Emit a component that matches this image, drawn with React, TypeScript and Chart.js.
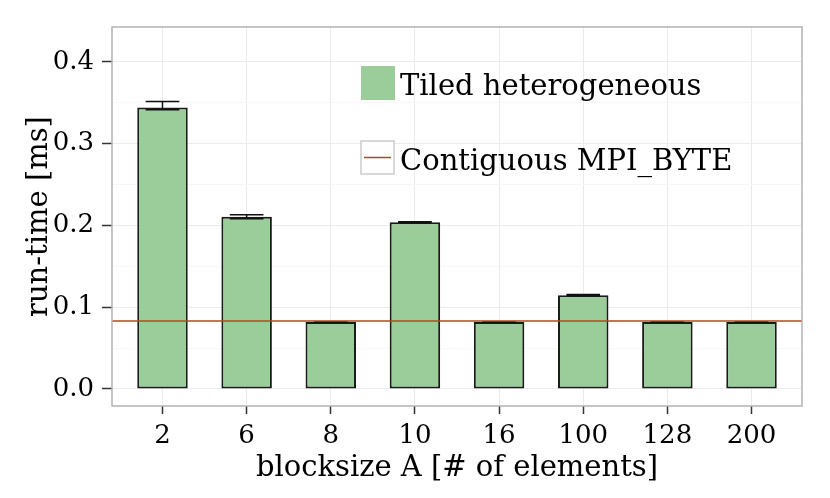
import { useEffect, useRef } from "react"
import { Chart, registerables } from "chart.js"

Chart.register(...registerables)

// data
const blockSizes = ["2", "6", "8", "10", "16", "100", "128", "200"]
const tiledTime = [0.3443, 0.2105, 0.082, 0.204, 0.082, 0.1147, 0.082, 0.082]
const tiledLow = [0.3415, 0.2081, 0.0818, 0.2035, 0.0818, 0.1143, 0.0818, 0.0818]
const tiledHigh = [0.3517, 0.213, 0.0822, 0.2045, 0.0822, 0.1155, 0.0822, 0.0822]
const contiguousTime = 0.0832
const yTicks = [0, 0.1, 0.2, 0.3, 0.4]

const serif = "'DejaVu Serif', serif"
const green = "#9acd9a"
const red = "#b5471f"

const isMajor = (v: number) => yTicks.some((t) => Math.abs(t - v) < 1e-6)

const overlay = {
  id: "overlay",
  afterDatasetsDraw(chart: any) {
    const { ctx, chartArea, scales } = chart
    const x = scales.x
    const y = scales.y
    ctx.save()
    // error bars
    ctx.strokeStyle = "#111"
    ctx.lineWidth = 1.5
    tiledTime.forEach((_, i) => {
      const xc = x.getPixelForValue(i)
      const xl = x.getPixelForValue(i - 0.2)
      const xr = x.getPixelForValue(i + 0.2)
      const yl = y.getPixelForValue(tiledLow[i])
      const yh = y.getPixelForValue(tiledHigh[i])
      ctx.beginPath()
      ctx.moveTo(xl, yh)
      ctx.lineTo(xr, yh)
      ctx.moveTo(xl, yl)
      ctx.lineTo(xr, yl)
      ctx.moveTo(xc, yl)
      ctx.lineTo(xc, yh)
      ctx.stroke()
    })
    // reference line
    const yc = y.getPixelForValue(contiguousTime)
    ctx.strokeStyle = red
    ctx.lineWidth = 1.5
    ctx.beginPath()
    ctx.moveTo(chartArea.left, yc)
    ctx.lineTo(chartArea.right, yc)
    ctx.stroke()
    ctx.restore()
  },
  afterDraw(chart: any) {
    const { ctx, chartArea } = chart
    ctx.save()
    // panel border
    ctx.strokeStyle = "#b3b3b3"
    ctx.lineWidth = 1.5
    ctx.strokeRect(chartArea.left, chartArea.top, chartArea.right - chartArea.left, chartArea.bottom - chartArea.top)
    // legend
    ctx.fillStyle = green
    ctx.fillRect(361, 66, 34, 34)
    ctx.fillStyle = "#fff"
    ctx.fillRect(361, 141, 33, 33)
    ctx.strokeStyle = "#cccccc"
    ctx.lineWidth = 1.5
    ctx.strokeRect(361, 141, 33, 33)
    ctx.strokeStyle = red
    ctx.beginPath()
    ctx.moveTo(364, 157.5)
    ctx.lineTo(391, 157.5)
    ctx.stroke()
    ctx.fillStyle = "#000"
    ctx.font = `29px ${serif}`
    ctx.textBaseline = "alphabetic"
    ctx.fillText("Tiled heterogeneous", 400, 95)
    ctx.fillText("Contiguous MPI_BYTE", 400, 170)
    ctx.restore()
  },
}

const BarChart = () => {
  const chartRef = useRef<HTMLCanvasElement>(null)

  useEffect(() => {
    if (!chartRef.current) return
    const myChart = new Chart(chartRef.current, {
      type: "bar",
      data: {
        datasets: [
          {
            label: "Tiled heterogeneous",
            data: tiledTime.map((v, i) => ({ x: i, y: v })),
            backgroundColor: green,
            borderColor: "#1a1a1a",
            borderWidth: 2,
            borderSkipped: false,
            barPercentage: 0.6,
            categoryPercentage: 1,
          },
        ],
      },
      options: {
        animation: false,
        responsive: false,
        layout: { padding: { top: 27, right: 28, left: 0, bottom: 0 } },
        plugins: { legend: { display: false }, tooltip: { enabled: false } },
        scales: {
          x: {
            type: "linear",
            min: -0.6,
            max: 7.6,
            offset: false,
            afterFit: (s: any) => {
              s.height = 92
            },
            border: { display: false },
            grid: {
              offset: false,
              color: "#ebebeb",
              tickColor: "#333",
              tickLength: 8,
              tickWidth: 1.5,
            },
            ticks: {
              stepSize: 1,
              includeBounds: false,
              autoSkip: false,
              maxRotation: 0,
              padding: 7,
              color: "#000",
              font: { family: serif, size: 26 },
              callback: (v: any) => blockSizes[Math.round(v)] ?? "",
            },
            title: {
              display: true,
              text: "blocksize A [# of elements]",
              color: "#000",
              font: { family: serif, size: 29 },
              padding: { top: 0, bottom: 12 },
            },
          },
          y: {
            min: -0.0208,
            max: 0.4427,
            afterFit: (s: any) => {
              s.width = 112
            },
            border: { display: false },
            grid: {
              color: (c: any) => (isMajor(c.tick.value) ? "#ebebeb" : "#f7f7f7"),
              tickColor: (c: any) => (isMajor(c.tick.value) ? "#333" : "rgba(0,0,0,0)"),
              tickLength: 10,
              tickWidth: 1.5,
            },
            ticks: {
              stepSize: 0.05,
              includeBounds: false,
              padding: 8,
              color: "#000",
              font: { family: serif, size: 26 },
              callback: (v: any) => (isMajor(v) ? Number(v).toFixed(1) : ""),
            },
            title: {
              display: true,
              text: "run-time [ms]",
              color: "#000",
              font: { family: serif, size: 29 },
              padding: { top: 22, bottom: 0 },
            },
          },
        },
      },
      plugins: [overlay],
    })

    return () => {
      myChart.destroy()
    }
  }, [])

  return <canvas ref={chartRef} width={830} height={498} style={{ display: "block" }} />
}

export default function App() {
  return (
    <div style={{ position: "fixed", left: 0, top: 0, width: 830, height: 498, background: "#fff" }}>
      <BarChart />
    </div>
  )
}
